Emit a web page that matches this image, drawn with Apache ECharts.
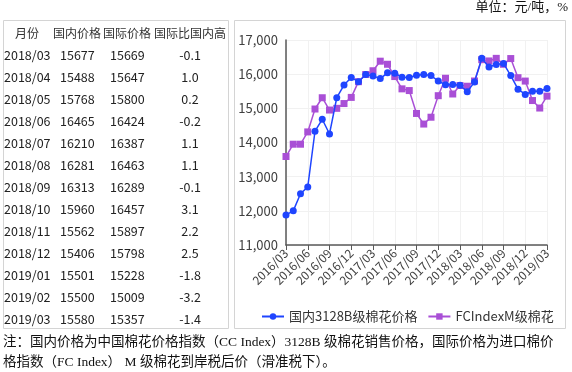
<!DOCTYPE html>
<html><head><meta charset="utf-8">
<script src="https://cdn.jsdelivr.net/npm/echarts@6/dist/echarts.min.js"></script>
<style>html,body{margin:0;padding:0;background:#fff}#c{width:572px;height:372px}</style>
</head><body><div id="c"></div>
<script>
// ---- table data ----
var tableHeaders = ['月份', '国内价格', '国际价格', '国际比国内高'];
var tableMonths = ['2018/03','2018/04','2018/05','2018/06','2018/07','2018/08','2018/09','2018/10','2018/11','2018/12','2019/01','2019/02','2019/03'];
var tableDomestic = [15677,15488,15768,16465,16210,16281,16313,15960,15562,15406,15501,15500,15580];
var tableIntl = [15669,15647,15800,16424,16387,16463,16289,16457,15897,15798,15228,15009,15357];
var tableDiff = ['-0.1','1.0','0.2','-0.2','1.1','1.1','-0.1','3.1','2.2','2.5','-1.8','-3.2','-1.4'];

var earlyMonths = ['2016/03','2016/04','2016/05','2016/06','2016/07','2016/08','2016/09','2016/10','2016/11','2016/12',
  '2017/01','2017/02','2017/03','2017/04','2017/05','2017/06','2017/07','2017/08','2017/09','2017/10','2017/11','2017/12',
  '2018/01','2018/02'];
var earlyDomestic = [11880,12000,12500,12700,14330,14680,14250,15310,15680,15900,
  15780,15990,15950,15870,16040,16030,15910,15900,15970,15990,15960,15800,15690,15700];
var earlyIntl = [13590,13950,13950,14310,14980,15310,14950,15000,15140,15320,
  15780,15990,16100,16380,16290,15930,15570,15520,14850,14540,14740,15370,15880,15420];
var seriesNames = ['国内3128B级棉花价格', 'FCIndexM级棉花'];
var yTicks = {min: 11000, max: 17000, interval: 1000};
var unitText = '单位：元/吨，%';
var noteLines = ['注：国内价格为中国棉花价格指数（CC Index）3128B 级棉花销售价格，国际价格为进口棉价',
                 '格指数（FC Index） M 级棉花到岸税后价（滑准税下）。'];

var months = earlyMonths.concat(tableMonths);
var domestic = earlyDomestic.concat(tableDomestic);
var intl = earlyIntl.concat(tableIntl);

var sans = '"Noto Sans CJK SC", "Noto Sans", sans-serif';
var serif = '"Liberation Serif", "Noto Sans CJK SC", serif';
var blue = '#1f45ff', purple = '#a94fd6';

var g = [];
// boxes
g.push({type:'rect', shape:{x:3.5, y:20.5, width:225, height:308}, style:{fill:'none', stroke:'#d4d4d4', lineWidth:1}, silent:true});
g.push({type:'rect', shape:{x:234.5, y:20.5, width:331, height:308}, style:{fill:'none', stroke:'#d4d4d4', lineWidth:1}, silent:true});
// header
var headX = [27, 77, 127, 190];
tableHeaders.forEach(function(h, i){
  g.push({type:'text', x:headX[i], y:33, style:{text:h, font:'12px '+sans, fill:'#333', align:'center', verticalAlign:'middle'}});
});
tableMonths.forEach(function(m, i){
  var y = 55 + 22*i;
  g.push({type:'text', x:4, y:y, style:{text:m, font:'12.5px '+sans, fill:'#222', align:'left', verticalAlign:'middle'}});
  g.push({type:'text', x:60, y:y, style:{text:String(tableDomestic[i]), font:'12.5px '+sans, fill:'#222', align:'left', verticalAlign:'middle'}});
  g.push({type:'text', x:110, y:y, style:{text:String(tableIntl[i]), font:'12.5px '+sans, fill:'#222', align:'left', verticalAlign:'middle'}});
  g.push({type:'text', x:190, y:y, style:{text:tableDiff[i], font:'12.5px '+sans, fill:'#222', align:'center', verticalAlign:'middle'}});
});
g.push({type:'text', x:568, y:8, style:{text:unitText, font:'13px '+serif, fill:'#111', align:'right', verticalAlign:'middle'}});
noteLines.forEach(function(t, i){
  g.push({type:'text', x:3, y:342 + 20*i, style:{text:t, font:'13.5px '+serif, fill:'#111', align:'left', verticalAlign:'middle'}});
});

var chart = echarts.init(document.getElementById('c'), null, {renderer:'canvas'});
chart.setOption({
  animation:false,
  backgroundColor:'#fff',
  grid:{left:286, right:25, top:40, bottom:127, containLabel:false},
  legend:{
    left:256, top:305, itemWidth:22, itemHeight:8, itemGap:10,
    textStyle:{fontSize:13, color:'#333', fontFamily:sans},
    data:seriesNames
  },
  xAxis:{
    type:'category', data:months, boundaryGap:false,
    axisLine:{lineStyle:{color:'#595959', width:1.5}},
    axisTick:{show:true, interval:2, length:5, lineStyle:{color:'#595959'}},
    axisLabel:{interval:2, rotate:45, fontSize:12, color:'#404040', fontFamily:sans, margin:6},
    splitLine:{show:true, interval:2, lineStyle:{color:'#f1f1f1'}}
  },
  yAxis:{
    type:'value', min:yTicks.min, max:yTicks.max, interval:yTicks.interval,
    axisLine:{show:true, lineStyle:{color:'#595959', width:1.5}},
    axisTick:{show:false},
    axisLabel:{fontSize:13, color:'#404040', fontFamily:sans, margin:8},
    splitLine:{show:true, lineStyle:{color:'#f1f1f1'}}
  },
  series:[
    {name:seriesNames[0], type:'line', data:domestic, symbol:'circle', symbolSize:7, showAllSymbol:true,
     lineStyle:{color:blue, width:1.5}, itemStyle:{color:blue}, z:3},
    {name:seriesNames[1], type:'line', data:intl, symbol:'rect', symbolSize:7, showAllSymbol:true,
     lineStyle:{color:purple, width:1.5}, itemStyle:{color:purple}, z:2}
  ],
  graphic:g
});
</script></body></html>
